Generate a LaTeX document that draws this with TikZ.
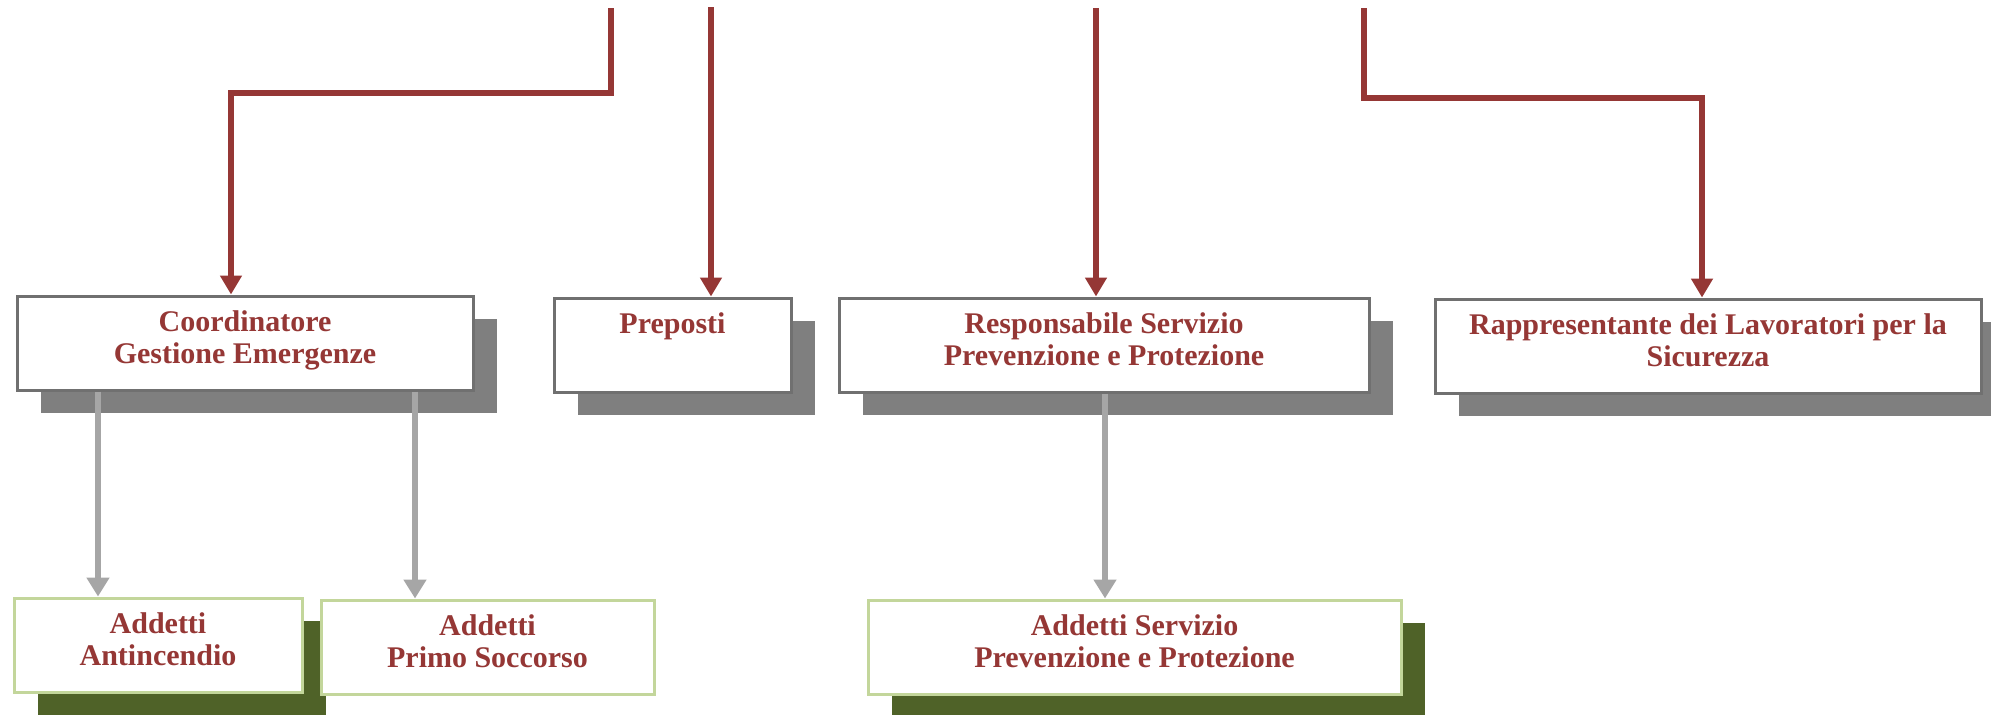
\documentclass[tikz,border=0pt]{standalone}
\usepackage{fontspec}
\setmainfont{Liberation Serif}
\usepackage{tikz}
\usetikzlibrary{arrows.meta, positioning, calc, shadows}
\definecolor{linkred}{RGB}{149,55,53}
\definecolor{boxgray}{RGB}{112,112,112}
\definecolor{shadowgray}{RGB}{127,127,127}
\definecolor{leafgreen}{RGB}{195,214,155}
\definecolor{leafshadow}{RGB}{79,98,40}
\definecolor{linkgray}{RGB}{166,166,166}

\tikzset{
  basebox/.style={line width=1.5pt, fill=white, anchor=north west,
    inner sep=0pt, align=flush center, text=linkred,
    font=\fontsize{15}{16}\selectfont\bfseries,
    text height=17.75pt, text depth=29.25pt},
  rolebox/.style={basebox, draw=boxgray,
    drop shadow={shadow xshift=12pt, shadow yshift=-11.5pt, draw=none, fill=shadowgray, opacity=1}},
  leafbox/.style={basebox, draw=leafgreen},
  leafshadowed/.style={leafbox,
    drop shadow={shadow xshift=12pt, shadow yshift=-11.5pt, draw=none, fill=leafshadow, opacity=1}},
  redarrow/.style={draw=linkred, line width=3.35pt, -{Triangle[width=10.5pt,length=9.5pt]}},
  grayarrow/.style={draw=linkgray, line width=3.35pt, -{Triangle[width=11pt,length=9.5pt]}}
}

\begin{document}
\begin{tikzpicture}[x=0.5pt, y=-0.5pt]
    \useasboundingbox (0,0) rectangle (1991,714);

    % Top level roles
    \node[rolebox, text width=228pt] (coord) at (15.5,294.5) {Coordinatore\\Gestione Emergenze};
    \node[rolebox, text width=118.5pt] (prep) at (552.5,296.5) {Preposti};
    \node[rolebox, text width=265pt] (rspp) at (837.5,296.5) {Responsabile Servizio\\Prevenzione e Protezione};
    \node[rolebox, text width=273pt] (rls) at (1433.5,297.5) {Rappresentante dei Lavoratori per la\\Sicurezza};

    % Second level
    \node[leafshadowed, text width=144pt] (antinc) at (12.5,596.5) {Addetti\\Antincendio};
    \node[leafbox, text width=166.5pt] (primo) at (319.5,598.5) {Addetti\\Primo Soccorso};
    \node[leafshadowed, text width=266.5pt] (aspp) at (866.5,598.5) {Addetti Servizio\\Prevenzione e Protezione};

    % Incoming links from above
    \coordinate (feedA) at (611,8);
    \coordinate (bendA) at (231,93);
    \coordinate (feedB) at (711,7);
    \coordinate (feedC) at (1096,8);
    \coordinate (feedD) at (1364,8);
    \coordinate (bendD) at (1702,98);
    \draw[redarrow] (feedA) |- (bendA) -- (bendA |- coord.north);
    \draw[redarrow] (feedB) -- (feedB |- prep.north);
    \draw[redarrow] (feedC) -- (feedC |- rspp.north);
    \draw[redarrow] (feedD) |- (bendD) -- (bendD |- rls.north);

    % Links to second level
    \coordinate (tapA) at (98,0);
    \coordinate (tapB) at (415,0);
    \coordinate (tapC) at (1105,0);
    \draw[grayarrow] (coord.south -| tapA) -- (antinc.north -| tapA);
    \draw[grayarrow] (coord.south -| tapB) -- (primo.north -| tapB);
    \draw[grayarrow] (rspp.south -| tapC) -- (aspp.north -| tapC);
\end{tikzpicture}
\end{document}
